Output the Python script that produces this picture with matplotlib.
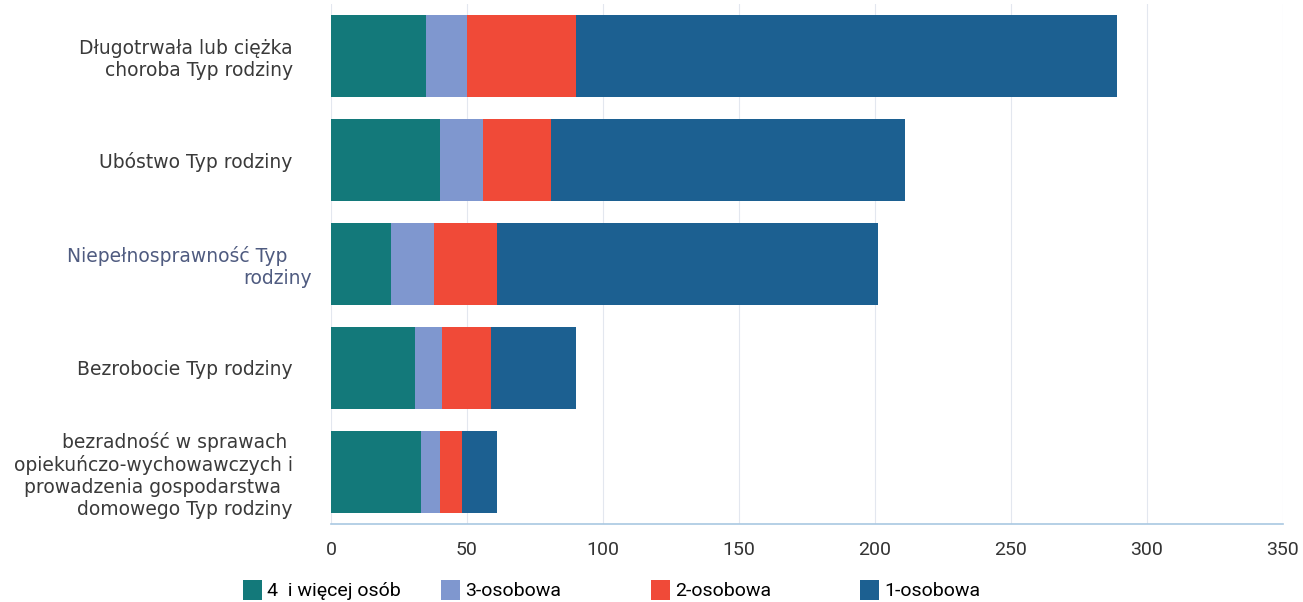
import matplotlib.pyplot as plt
import matplotlib.transforms as mtransforms
from matplotlib.patches import Patch
import numpy as np

# --- dane ---
kategorie = [
    "Długotrwała lub ciężka\nchoroba Typ rodziny",
    "Ubóstwo Typ rodziny",
    "Niepełnosprawność Typ    \nrodziny",
    "Bezrobocie Typ rodziny",
    "bezradność w sprawach \nopiekuńczo-wychowawczych i\nprowadzenia gospodarstwa  \ndomowego Typ rodziny",
]
serie = ["4  i więcej osób", "3-osobowa", "2-osobowa", "1-osobowa"]
osob_4_wiecej = [35, 40, 22, 31, 33]
osob_3 = [15, 16, 16, 10, 7]
osob_2 = [40, 25, 23, 18, 8]
osob_1 = [199, 130, 140, 31, 13]
ticks_x = [0, 50, 100, 150, 200, 250, 300, 350]

kolory = ["#13797a", "#7f97cf", "#f04a38", "#1c6091"]
legenda_x = [243, 441, 651, 860]  # lewa krawędź kwadracików (px)

fig = plt.figure(figsize=(13.03, 6.02), dpi=100)
ax = fig.add_axes([0.254, 0.1296, 0.7306, 0.8638])

y = np.arange(len(kategorie))
lewo = np.zeros(len(kategorie))
for wartosci, kolor, nazwa in zip([osob_4_wiecej, osob_3, osob_2, osob_1], kolory, serie):
    ax.barh(y, wartosci, left=lewo, height=0.78, color=kolor, label=nazwa, zorder=2)
    lewo += np.array(wartosci)

ax.set_ylim(len(kategorie) - 0.5, -0.5)
ax.set_xlim(0, 350)
ax.set_xticks(ticks_x)
ax.set_yticks(y)
ax.set_yticklabels(kategorie, fontsize=13.5, color="#3a3a3a", family="DejaVu Sans")
ax.tick_params(axis="y", length=0, pad=27.5)
ax.tick_params(axis="x", length=0, pad=12, labelsize=14, labelcolor="#333333")
for lab in ax.get_xticklabels():
    lab.set_family(["Roboto", "DejaVu Sans"])

# trzecia etykieta - inny kolor i przesunięcie
lab3 = ax.get_yticklabels()[2]
lab3.set_color("#4f5b80")
lab3.set_transform(lab3.get_transform() + mtransforms.ScaledTranslation(0.19, 0, fig.dpi_scale_trans))

ax.grid(axis="x", color="#e3e7ef", linewidth=0.8, zorder=0)
for s in ["top", "right", "left"]:
    ax.spines[s].set_visible(False)
ax.spines["bottom"].set_color("#a9c8e2")
ax.spines["bottom"].set_linewidth(1.2)

# legenda - każdy wpis osobno, żeby trafić w pozycje z oryginału
for kolor, nazwa, px in zip(kolory, serie, legenda_x):
    fig.legend([Patch(facecolor=kolor)], [nazwa], loc="center left",
               bbox_to_anchor=(px / 1303, 1 - 590 / 602), frameon=False,
               handlelength=1.0, handleheight=1.2, handletextpad=0.25,
               borderpad=0, borderaxespad=0,
               prop={"family": ["Roboto", "DejaVu Sans"], "size": 14})

fig.savefig("out.png", dpi=100)
